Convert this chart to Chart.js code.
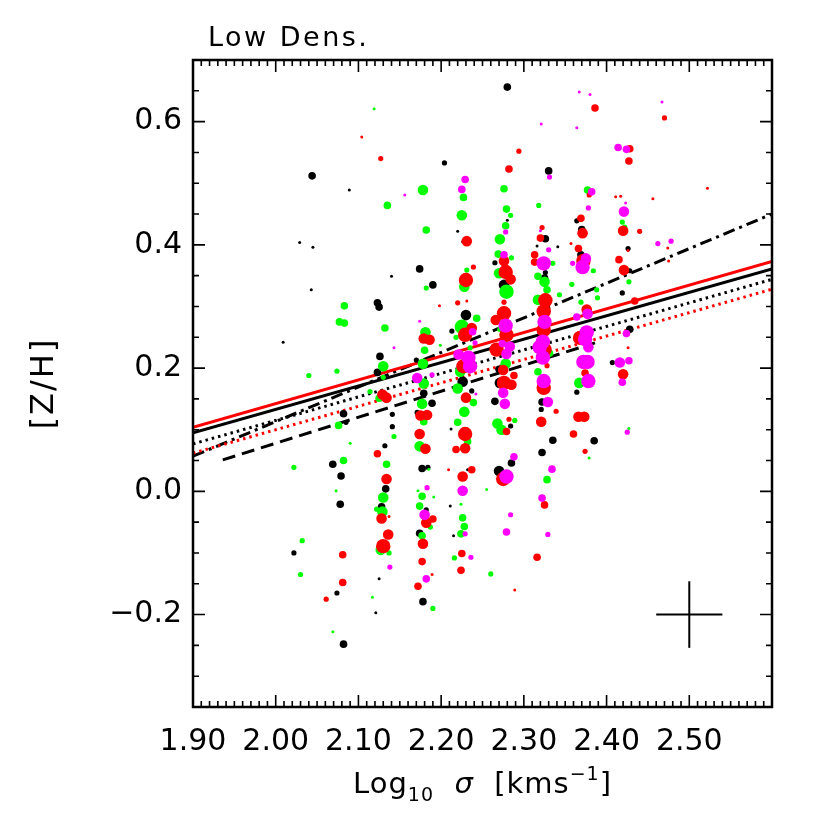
<!DOCTYPE html>
<html>
<head>
<meta charset="utf-8">
<script src="https://cdn.jsdelivr.net/npm/chart.js@4"></script>
<style>
  body { margin: 0; background: #fff; }
  canvas { display: block; }
</style>
</head>
<body>
<canvas id="chart" width="830" height="830"></canvas>
<script>
// each point: [log10 sigma, [Z/H], symbol size class 1 (smallest) .. 5 (largest)]
const blackPts = [
  [2.044,0.512,3],[2.089,0.489,1],[2.029,0.404,1],[2.045,0.396,1],[2.140,0.349,1],[2.043,0.327,1],
  [2.123,0.306,3],[2.125,0.299,3],[2.009,0.242,1],[2.126,0.219,3],[2.123,0.193,3],[2.082,0.126,3],
  [2.085,0.112,2],[2.141,0.125,2],[2.141,0.105,2],[2.132,0.074,2],[2.069,0.044,3],[2.079,0.025,3],
  [2.133,0.004,3],[2.078,-0.021,3],[2.128,-0.025,3],[2.022,-0.100,2],[2.125,-0.142,1],[2.074,-0.165,2],
  [2.121,-0.197,1],[2.082,-0.248,3],
  [2.280,0.656,3],[2.204,0.533,2],[2.280,0.440,1],[2.220,0.422,1],[2.226,0.405,1],[2.265,0.371,2],
  [2.174,0.361,3],[2.190,0.335,3],[2.276,0.335,4],[2.230,0.286,4],[2.213,0.260,2],[2.170,0.213,2],
  [2.270,0.198,3],[2.226,0.178,4],[2.179,0.159,3],[2.189,0.143,3],[2.171,0.128,2],[2.177,0.037,3],
  [2.184,0.039,2],[2.182,-0.030,2],[2.174,-0.068,3],[2.178,-0.179,3],[2.237,0.163,2],[2.212,0.101,1],
  [2.232,0.035,1],[2.211,-0.024,1],[2.215,-0.072,1],[2.271,0.176,4],[2.265,0.146,3],[2.284,0.106,2],
  [2.285,0.046,3],[2.270,0.033,4],
  [2.330,0.520,3],[2.326,0.410,3],[2.364,0.439,2],[2.370,0.425,3],[2.426,0.394,2],[2.316,0.398,1],
  [2.341,0.397,1],[2.369,0.384,3],[2.326,0.355,2],[2.428,0.358,2],[2.325,0.346,3],[2.419,0.322,2],
  [2.428,0.263,3],[2.407,0.209,2],[2.364,0.161,2],[2.322,0.145,3],[2.321,0.133,2],[2.335,0.083,3],
  [2.385,0.082,3],[2.322,0.063,3]
];

const greenPts = [
  [2.119,0.621,1],[2.135,0.464,3],[2.083,0.301,3],[2.077,0.275,3],[2.083,0.273,3],[2.132,0.265,3],
  [2.130,0.203,4],[2.040,0.188,2],[2.074,0.195,2],[2.130,0.185,2],[2.114,0.162,2],[2.125,0.151,3],
  [2.076,0.107,3],[2.143,0.089,2],[2.090,0.078,1],[2.022,0.039,2],[2.082,0.050,3],[2.134,0.044,3],
  [2.073,0.001,1],[2.130,-0.010,4],[2.122,-0.029,2],[2.129,-0.033,4],[2.032,-0.080,2],[2.127,-0.095,4],
  [2.137,-0.100,2],[2.030,-0.135,2],[2.117,-0.172,1],[2.069,-0.228,1],
  [2.178,0.489,4],[2.227,0.477,3],[2.276,0.491,3],[2.279,0.458,3],[2.284,0.448,2],[2.225,0.448,4],
  [2.182,0.424,3],[2.278,0.431,3],[2.271,0.409,4],[2.269,0.385,3],[2.285,0.379,2],[2.231,0.359,2],
  [2.270,0.354,4],[2.228,0.332,4],[2.182,0.330,2],[2.279,0.324,5],[2.243,0.281,3],[2.225,0.267,5],
  [2.181,0.258,4],[2.218,0.250,2],[2.271,0.263,2],[2.235,0.233,2],[2.180,0.229,3],[2.199,0.237,1],
  [2.178,0.207,4],[2.278,0.207,4],[2.223,0.194,4],[2.179,0.175,4],[2.177,0.142,4],[2.179,0.113,3],
  [2.174,0.073,4],[2.185,0.036,1],[2.172,0.001,1],[2.177,-0.008,3],[2.191,-0.009,1],[2.174,-0.024,3],
  [2.187,-0.058,2],[2.177,-0.072,3],[2.190,-0.190,2],[2.220,0.167,4],[2.239,0.144,3],[2.228,0.129,4],
  [2.220,0.112,3],[2.232,0.081,3],[2.224,-0.021,1],[2.255,0.003,1],[2.226,-0.043,3],[2.228,-0.057,3],
  [2.224,-0.069,3],[2.216,-0.108,2],[2.260,-0.134,2],[2.289,0.115,2],[2.268,0.110,4],[2.273,0.100,4],
  [2.318,0.464,2],[2.377,0.489,3],[2.419,0.437,2],[2.422,0.429,2],[2.384,0.358,2],[2.427,0.340,2],
  [2.317,0.349,3],[2.325,0.340,4],[2.328,0.327,3],[2.358,0.336,2],[2.343,0.319,2],[2.388,0.327,2],
  [2.389,0.314,2],[2.369,0.307,2],[2.317,0.311,4],[2.372,0.252,4],[2.331,0.224,3],[2.317,0.194,3],
  [2.367,0.176,4],[2.427,0.102,1],[2.379,0.054,1],[2.328,0.019,3],[2.335,0.370,2]
];

const redPts = [
  [2.104,0.575,1],[2.127,0.540,2],[2.129,0.157,4],[2.134,0.152,4],[2.123,0.061,3],[2.134,0.020,4],
  [2.128,-0.044,4],[2.137,-0.041,1],[2.136,-0.070,4],[2.130,-0.089,5],[2.081,-0.103,3],[2.081,-0.148,3],
  [2.061,-0.175,2],
  [2.294,0.552,2],[2.282,0.523,3],[2.231,0.406,4],[2.276,0.374,4],[2.239,0.364,2],[2.278,0.356,5],
  [2.284,0.344,4],[2.230,0.343,5],[2.231,0.309,1],[2.220,0.306,2],[2.276,0.307,2],[2.198,0.301,1],
  [2.276,0.289,5],[2.266,0.278,4],[2.237,0.265,4],[2.179,0.248,4],[2.186,0.246,4],[2.229,0.254,5],
  [2.279,0.254,5],[2.267,0.230,5],[2.227,0.203,5],[2.275,0.197,4],[2.288,0.188,3],[2.276,0.176,5],
  [2.285,0.173,4],[2.175,0.123,4],[2.183,0.124,4],[2.174,0.093,4],[2.181,0.069,4],[2.182,-0.051,4],
  [2.190,-0.045,3],[2.178,-0.085,4],[2.177,-0.114,3],[2.189,-0.135,1],[2.172,-0.154,3],[2.230,0.152,4],
  [2.229,0.093,5],[2.229,0.070,4],[2.218,0.068,3],[2.209,0.035,1],[2.237,0.035,3],[2.226,0.024,4],
  [2.225,-0.101,3],[2.224,-0.128,3],[2.282,0.117,2],[2.279,0.097,3],[2.275,0.020,5],[2.289,-0.160,1],
  [2.316,-0.107,3],
  [2.386,0.622,3],[2.470,0.606,2],[2.428,0.556,3],[2.427,0.536,3],[2.379,0.481,2],[2.411,0.478,1],
  [2.417,0.479,1],[2.456,0.475,1],[2.440,0.422,2],[2.322,0.428,2],[2.320,0.411,3],[2.369,0.443,3],
  [2.371,0.419,4],[2.420,0.423,4],[2.426,0.391,1],[2.474,0.395,1],[2.475,0.374,1],[2.357,0.402,1],
  [2.366,0.394,3],[2.372,0.374,5],[2.313,0.384,3],[2.313,0.372,3],[2.415,0.376,3],[2.421,0.359,4],
  [2.326,0.310,5],[2.324,0.292,5],[2.434,0.309,3],[2.376,0.295,4],[2.324,0.262,5],[2.368,0.249,5],
  [2.325,0.230,5],[2.328,0.204,2],[2.426,0.233,1],[2.420,0.190,4],[2.374,0.192,3],[2.324,0.168,5],
  [2.339,0.130,2],[2.321,0.113,4],[2.366,0.121,4],[2.373,0.121,4],[2.360,0.093,3],[2.374,0.065,2],
  [2.325,-0.022,3],[2.522,0.492,1]
];

const magentaPts = [
  [2.156,0.481,1],[2.143,0.233,1],[2.138,-0.123,2],
  [2.229,0.506,3],[2.225,0.490,3],[2.278,0.421,2],[2.276,0.384,3],[2.174,0.276,1],[2.278,0.269,5],
  [2.241,0.241,2],[2.274,0.240,3],[2.283,0.235,4],[2.279,0.223,4],[2.221,0.222,4],[2.233,0.217,5],
  [2.235,0.203,5],[2.171,0.184,4],[2.189,0.189,2],[2.183,0.006,2],[2.180,-0.038,4],[2.182,-0.142,3],
  [2.242,0.158,1],[2.226,0.001,4],[2.229,-0.069,2],[2.236,-0.107,2],[2.275,0.160,4],[2.277,0.142,4],
  [2.288,0.056,3],[2.279,0.024,5],[2.284,-0.038,2],[2.279,-0.066,3],[2.238,0.259,3],
  [2.367,0.648,1],[2.380,0.644,1],[2.467,0.632,1],[2.321,0.596,1],[2.364,0.590,1],[2.414,0.558,3],
  [2.424,0.555,3],[2.331,0.510,2],[2.382,0.486,3],[2.378,0.460,2],[2.423,0.468,1],[2.421,0.454,4],
  [2.320,0.423,1],[2.462,0.402,2],[2.478,0.406,2],[2.375,0.378,4],[2.371,0.364,5],[2.359,0.370,2],
  [2.324,0.370,5],[2.330,0.392,2],[2.364,0.283,3],[2.377,0.288,4],[2.325,0.275,5],[2.376,0.258,5],
  [2.374,0.247,5],[2.378,0.234,4],[2.323,0.243,5],[2.319,0.234,5],[2.323,0.217,5],[2.324,0.179,5],
  [2.424,0.256,3],[2.416,0.209,4],[2.427,0.212,3],[2.419,0.177,3],[2.372,0.210,5],[2.377,0.210,5],
  [2.378,0.179,5],[2.329,0.145,4],[2.425,0.096,2],[2.334,0.036,3],[2.322,-0.011,3],[2.329,-0.070,2]
];

// fitted relations, end points [log10 sigma, [Z/H]]
const fitRedSolid = [[1.90, 0.104], [2.60, 0.373]];
const fitBlackSolid = [[1.90, 0.095], [2.60, 0.361]];
const fitBlackDotted = [[1.90, 0.077], [2.60, 0.344]];
const fitRedDotted = [[1.90, 0.062], [2.60, 0.328]];
const fitDashDot = [[1.90, 0.057], [2.60, 0.450]];
const fitDashed = [[1.936, 0.051], [2.386, 0.241]];

// typical error bar
const errCentre = [2.50, -0.20];
const errSize = [0.04, 0.054];

const xTicks = [1.90, 2.00, 2.10, 2.20, 2.30, 2.40, 2.50];
const yTicks = [-0.2, 0.0, 0.2, 0.4, 0.6];

const radiusFor = { 1: 1.5, 2: 2.6, 3: 3.8, 4: 5.3, 5: 7.2 };
const FONT = 'DejaVu Sans';

function pts(list) {
  return list.map(p => ({ x: p[0], y: p[1], w: p[2] }));
}

function scatterSet(list, colour) {
  return {
    data: pts(list),
    backgroundColor: colour,
    borderWidth: 0,
    pointRadius: c => radiusFor[c.raw.w],
    pointBorderWidth: 0
  };
}

function lineSet(ends, colour, dash, width) {
  return {
    type: 'line',
    data: pts(ends),
    borderColor: colour,
    borderWidth: width || 3,
    borderDash: dash || [],
    pointRadius: 0,
    showLine: true,
    fill: false
  };
}

const frame = {
  id: 'frame',
  afterDatasetsDraw(chart) {
    const { ctx, chartArea: a, scales: { x, y } } = chart;
    ctx.save();
    ctx.strokeStyle = '#000';
    ctx.lineWidth = 1.6;
    ctx.beginPath();
    for (let i = 0; i <= 70; i++) {
      const px = x.getPixelForValue(1.90 + i * 0.01);
      const len = i % 10 === 0 ? 12 : 6;
      ctx.moveTo(px, a.bottom); ctx.lineTo(px, a.bottom - len);
      ctx.moveTo(px, a.top); ctx.lineTo(px, a.top + len);
    }
    for (let i = 0; i <= 21; i++) {
      const py = y.getPixelForValue(-0.35 + i * 0.05);
      const len = (i - 3) % 4 === 0 ? 12 : 6;
      ctx.moveTo(a.left, py); ctx.lineTo(a.left + len, py);
      ctx.moveTo(a.right, py); ctx.lineTo(a.right - len, py);
    }
    ctx.stroke();
    ctx.lineWidth = 2.5;
    ctx.strokeRect(a.left, a.top, a.right - a.left, a.bottom - a.top);
    ctx.restore();
  },
  afterDraw(chart) {
    const { ctx, chartArea: a } = chart;
    ctx.save();
    ctx.fillStyle = '#000';
    ctx.textBaseline = 'alphabetic';

    ctx.font = '27px ' + FONT;
    ctx.textAlign = 'left';
    ctx.letterSpacing = '2.5px';
    ctx.fillText('Low Dens.', 208, 46);

    ctx.save();
    ctx.translate(42, (a.top + a.bottom) / 2);
    ctx.rotate(-Math.PI / 2);
    ctx.textAlign = 'center';
    ctx.letterSpacing = '2px';
    ctx.font = '32px ' + FONT;
    ctx.fillText('[Z/H]', 0, 11);
    ctx.restore();

    ctx.letterSpacing = '1px';
    const parts = [
      { t: 'Log', f: '29px ' + FONT, dy: 0 },
      { t: '10', f: '19px ' + FONT, dy: 8 },
      { t: '  ', f: '29px ' + FONT, dy: 0 },
      { t: 'σ', f: 'italic 29px ' + FONT, dy: 0 },
      { t: '  [kms', f: '29px ' + FONT, dy: 0 },
      { t: '−1', f: '19px ' + FONT, dy: -13 },
      { t: ']', f: '29px ' + FONT, dy: 0 }
    ];
    let total = 0;
    parts.forEach(p => { ctx.font = p.f; p.w = ctx.measureText(p.t).width; total += p.w; });
    let cx = (a.left + a.right) / 2 - total / 2;
    ctx.textAlign = 'left';
    parts.forEach(p => { ctx.font = p.f; ctx.fillText(p.t, cx, 793 + p.dy); cx += p.w; });
    ctx.restore();
  }
};

new Chart(document.getElementById('chart'), {
  type: 'scatter',
  data: {
    datasets: [
      scatterSet(magentaPts, '#ff00ff'),
      scatterSet(redPts, '#ff0000'),
      scatterSet(greenPts, '#00ff00'),
      scatterSet(blackPts, '#000000'),
      lineSet(fitRedSolid, '#ff0000'),
      lineSet(fitBlackSolid, '#000000'),
      lineSet(fitBlackDotted, '#000000', [2.5, 4]),
      lineSet(fitRedDotted, '#ff0000', [2.5, 4]),
      lineSet(fitDashDot, '#000000', [12, 5, 3, 5]),
      lineSet(fitDashed, '#000000', [13, 7]),
      lineSet([[errCentre[0] - errSize[0], errCentre[1]], [errCentre[0] + errSize[0], errCentre[1]]], '#000000', [], 2),
      lineSet([[errCentre[0], errCentre[1] - errSize[1]], [errCentre[0], errCentre[1] + errSize[1]]], '#000000', [], 2)
    ]
  },
  options: {
    responsive: false,
    animation: false,
    events: [],
    layout: { padding: { top: 60, right: 58, left: 0, bottom: 0 } },
    plugins: { legend: { display: false }, tooltip: { enabled: false } },
    scales: {
      x: {
        type: 'linear',
        min: 1.90,
        max: 2.60,
        grid: { display: false, drawTicks: false },
        border: { display: false },
        afterBuildTicks: s => { s.ticks = xTicks.map(v => ({ value: v })); },
        afterFit: s => { s.height = 123; },
        ticks: {
          autoSkip: false,
          maxRotation: 0,
          padding: 17,
          color: '#000',
          font: { family: FONT, size: 30 },
          callback: v => v.toFixed(2)
        }
      },
      y: {
        type: 'linear',
        min: -0.35,
        max: 0.70,
        grid: { display: false, drawTicks: false },
        border: { display: false },
        afterBuildTicks: s => { s.ticks = yTicks.map(v => ({ value: v })); },
        afterFit: s => { s.width = 193; },
        ticks: {
          autoSkip: false,
          padding: 11,
          color: '#000',
          font: { family: FONT, size: 30 },
          callback: v => (v < 0 ? '−' : '') + Math.abs(v).toFixed(1)
        }
      }
    }
  },
  plugins: [frame]
});
</script>
</body>
</html>
